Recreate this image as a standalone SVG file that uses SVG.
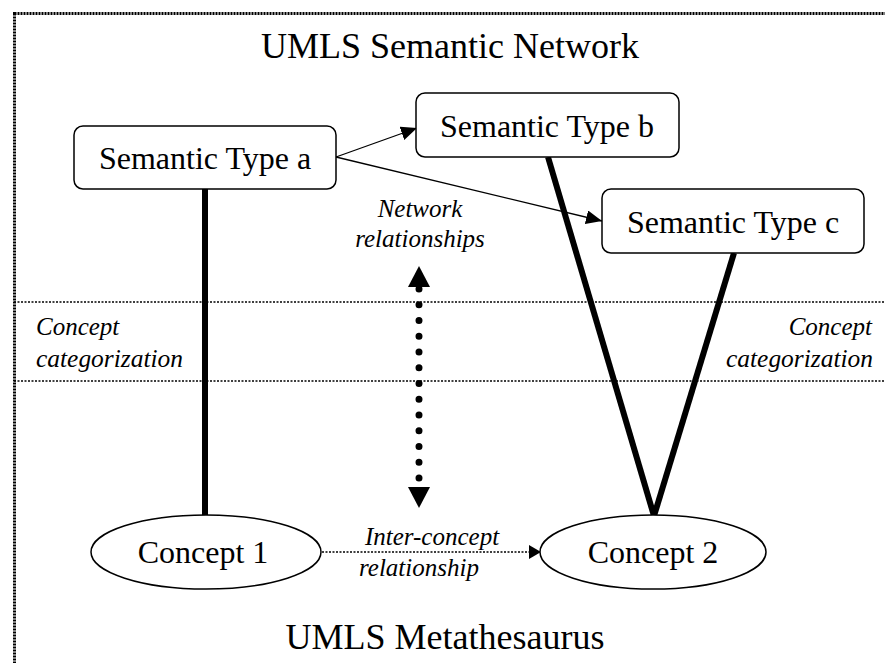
<svg xmlns="http://www.w3.org/2000/svg" width="885" height="663" viewBox="0 0 885 663">
<style>
.box{fill:#fff;stroke:#000;stroke-width:1.5}
.lbl{font-family:"Liberation Serif","Times New Roman",serif;font-size:32px;fill:#000;text-anchor:middle}
.big{font-family:"Liberation Serif","Times New Roman",serif;font-size:36px;fill:#000;text-anchor:middle}
.it{font-family:"Liberation Serif","Times New Roman",serif;font-size:25px;font-style:italic;fill:#000}
.thick{stroke:#000;stroke-width:6;fill:none}
.thin{stroke:#000;stroke-width:1.3;fill:none}
.sep{stroke:#000;stroke-width:1.5;stroke-dasharray:2 1.5;fill:none}
</style>
<defs>
<marker id="ah" markerUnits="userSpaceOnUse" markerWidth="16" markerHeight="14" refX="16" refY="7" orient="auto">
<path d="M0,0 L16,7 L0,14 Z" fill="#000"/>
</marker>
</defs>
<rect width="885" height="663" fill="#fff"/>
<g id="frame">
<rect x="14.5" y="13.5" width="900" height="700" fill="none" stroke="#000" stroke-width="3" stroke-dasharray="2 1"/>
<line class="sep" x1="14" y1="302" x2="885" y2="302"/>
<line class="sep" x1="14" y1="381" x2="885" y2="381"/>
</g>
<g id="titles">
<text class="big" x="450" y="58">UMLS Semantic Network</text>
<text class="big" x="445" y="649">UMLS Metathesaurus</text>
</g>
<g id="connectors">
<line class="thick" x1="205" y1="189" x2="205" y2="516"/>
<line class="thick" x1="548" y1="157" x2="654" y2="516"/>
<line class="thick" x1="734" y1="253" x2="654" y2="516"/>
<line class="thin" x1="336" y1="157" x2="417" y2="128" marker-end="url(#ah)"/>
<line class="thin" x1="336" y1="157" x2="602" y2="221" marker-end="url(#ah)"/>
<line x1="419" y1="289" x2="419" y2="479" stroke="#000" stroke-width="7" stroke-linecap="round" stroke-dasharray="0 15.75"/>
<polygon points="419,266 408,287 430,287" fill="#000"/>
<polygon points="419,508 408,487 430,487" fill="#000"/>
<line class="sep" x1="322" y1="552" x2="530" y2="552"/>
<polygon points="541,552 529,545 529,559" fill="#000"/>
</g>
<g id="labels">
<text class="it" x="420" y="217" text-anchor="middle">Network</text>
<text class="it" x="420" y="247" text-anchor="middle">relationships</text>
<text class="it" x="36" y="335">Concept</text>
<text class="it" x="36" y="367" textLength="147" lengthAdjust="spacingAndGlyphs">categorization</text>
<text class="it" x="872" y="335" text-anchor="end">Concept</text>
<text class="it" x="873" y="367" text-anchor="end" textLength="147" lengthAdjust="spacingAndGlyphs">categorization</text>
<text class="it" x="432" y="545" text-anchor="middle">Inter-concept</text>
<text class="it" x="419" y="576" text-anchor="middle">relationship</text>
</g>
<g id="typeA">
<rect class="box" x="74" y="126" width="262" height="63" rx="9"/>
<text class="lbl" x="205" y="169">Semantic Type a</text>
</g>
<g id="typeB">
<rect class="box" x="416" y="93" width="263" height="64" rx="9"/>
<text class="lbl" x="547" y="137">Semantic Type b</text>
</g>
<g id="typeC">
<rect class="box" x="602" y="189" width="262" height="64" rx="9"/>
<text class="lbl" x="733" y="233">Semantic Type c</text>
</g>
<g id="concept1">
<ellipse class="box" cx="206" cy="552" rx="115" ry="37"/>
<text class="lbl" x="203" y="563">Concept 1</text>
</g>
<g id="concept2">
<ellipse class="box" cx="653" cy="552" rx="113" ry="37"/>
<text class="lbl" x="653" y="563">Concept 2</text>
</g>
</svg>
